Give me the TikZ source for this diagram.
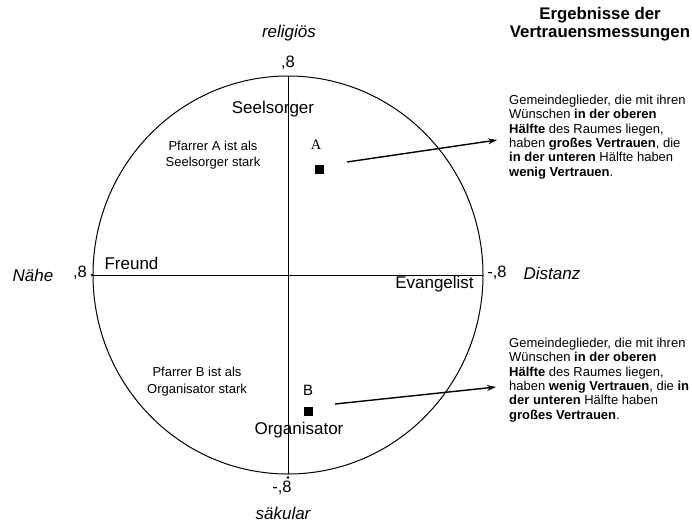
\documentclass[tikz,border=0pt]{standalone}
\usepackage{fontspec}
\setmainfont{Liberation Sans}
\newfontfamily\timesfont{Liberation Serif}
\usetikzlibrary{arrows.meta}
\tikzstyle{every node}=[inner sep=0pt]
\tikzstyle{axis}=[line width=1pt]
\tikzstyle{pole}=[font=\fontsize{17}{20}\selectfont\itshape]
\tikzstyle{tick}=[font=\fontsize{16.5}{20}\selectfont]
\tikzstyle{role}=[font=\fontsize{17}{20}\selectfont]
\tikzstyle{note}=[font=\fontsize{13}{16.5}\selectfont,align=center]
\tikzstyle{info}=[font=\fontsize{13}{14.3}\selectfont,align=left,anchor=north west]
\tikzstyle{pastor}=[draw,fill,rectangle,minimum size=7.5pt]
\tikzstyle{link}=[-{Stealth[length=9pt,width=6pt]},line width=1.4pt]

\begin{document}
\begin{tikzpicture}[x=1pt,y=-1pt]
	\useasboundingbox (0,0) rectangle (692,522);
	\draw[line width=1pt] (288,275) ellipse [x radius=195pt, y radius=199pt];
	\coordinate(top) at (288,76);
	\coordinate(bot) at (288,474);
	\coordinate(lft) at (92,275);
	\coordinate(rgt) at (483,275);
	\draw[axis] (top) -- (bot);
	\draw[axis] (lft) -- (rgt);
	\fill (lft) circle (1.3pt);
	\fill (288,477.5) circle (1.3pt);

	% Pole und Skalenwerte
	\node(rel)[pole] at (289,33) {religiös};
	\node(sae)[pole] at (283,513) {säkular};
	\node(nae)[pole] at (33,275) {Nähe};
	\node(dis)[pole] at (552,273) {Distanz};
	\node(tt)[tick] at (288,63) {,8};
	\node(tb)[tick] at (282,488) {-,8};
	\node(tl)[tick] at (80,273) {,8};
	\node(tr)[tick] at (497,273) {-,8};

	% Rollen
	\node(see)[role] at (273,109) {Seelsorger};
	\node(fre)[role] at (131.5,263) {Freund};
	\node(eva)[role] at (434.5,284) {Evangelist};
	\node(org)[role] at (299,430) {Organisator};

	% Pfarrer
	\node(na)[note] at (213,155) {Pfarrer A ist als\\Seelsorger stark};
	\node(nb)[note] at (197,381.5) {Pfarrer B ist als\\Organisator stark};
	\node(la)[font=\fontsize{14.5}{17}\timesfont] at (316,145) {A};
	\node(pa)[pastor] at (319,169) {};
	\node(lb)[font=\fontsize{15}{18}\selectfont] at (308,390) {B};
	\node(pb)[pastor] at (308,411) {};

	% Erklaerung rechts
	\node(head)[font=\fontsize{16.8}{18}\selectfont\bfseries,align=center] at (600,24) {Ergebnisse der\\Vertrauensmessungen};
	\node(ia)[info] at (509,95) {Gemeindeglieder, die mit ihren\\
		Wünschen \textbf{in der oberen}\\
		\textbf{Hälfte} des Raumes liegen,\\
		haben \textbf{großes Vertrauen}, die\\
		\textbf{in der unteren} Hälfte haben\\
		\textbf{wenig Vertrauen}.};
	\node(ib)[info] at (509,338) {Gemeindeglieder, die mit ihren\\
		Wünschen \textbf{in der oberen}\\
		\textbf{Hälfte} des Raumes liegen,\\
		haben \textbf{wenig Vertrauen}, die \textbf{in}\\
		\textbf{der unteren} Hälfte haben\\
		\textbf{großes Vertrauen}.};

	\coordinate(a0) at (347,162);
	\coordinate(a1) at (497,140);
	\coordinate(b0) at (335,404);
	\coordinate(b1) at (496,387);
	\path[link]	(a0) edge (a1)
			(b0) edge (b1);
\end{tikzpicture}
\end{document}
